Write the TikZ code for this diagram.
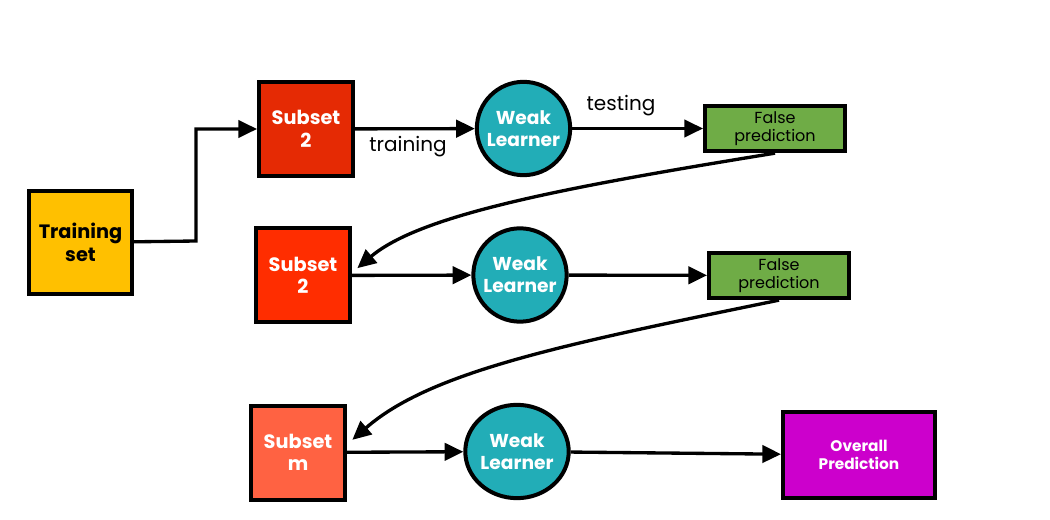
\documentclass[tikz,border=0pt]{standalone}
\usepackage{fontspec}
\setmainfont{Poppins}
\usetikzlibrary{arrows.meta, shapes.geometric}
\usepackage{xcolor}
\definecolor{gold}{HTML}{FFC000}
\definecolor{redA}{HTML}{E52A04}
\definecolor{redB}{HTML}{FF2D00}
\definecolor{redM}{HTML}{FF6242}
\definecolor{teal}{HTML}{22ADB7}
\definecolor{leaf}{HTML}{6FAC46}
\definecolor{plum}{HTML}{CC00CC}

\begin{document}
\begin{tikzpicture}[x=0.75pt,y=-0.75pt,
  >={Triangle[length=14pt,width=13pt]},
  box/.style={draw,line width=3pt,minimum width=70.5pt,minimum height=70.5pt,
    align=center,font=\fontsize{14.5}{17}\selectfont\bfseries,text=white},
  learner/.style={circle,draw,line width=3pt,fill=teal,minimum size=70pt,inner sep=0pt,
    align=center,font=\fontsize{14}{16.5}\selectfont\bfseries,text=white},
  falsebox/.style={draw,line width=3pt,fill=leaf,minimum width=105pt,minimum height=34pt,
    inner sep=0pt,align=center,font=\fontsize{12}{14}\selectfont},
  link/.style={->,line width=2.5pt},
  lbl/.style={font=\fontsize{15}{17}\selectfont}]
\useasboundingbox (0,0) rectangle (1050,520);

\node[box,fill=gold,text=black,minimum width=77pt,minimum height=77pt] (training) at (80.5,242.5) {Training\\set};
\node[box,fill=redA] (subA) at (306,129) {Subset\\2};
\node[learner] (learnA) at (523.5,128.5) {Weak\\Learner};
\node[falsebox] (falseA) at (775,128.5) {False\\prediction};

\node[box,fill=redB] (subB) at (303,275.5) {Subset\\2};
\node[learner] (learnB) at (520,275) {Weak\\Learner};
\node[falsebox] (falseB) at (779,275.5) {False\\prediction};

\node[box,fill=redM] (subM) at (298,452.5) {Subset\\m};
\node[learner,ellipse,minimum width=72pt,minimum height=70pt] (learnM) at (517,451.5) {Weak\\Learner};
\node[box,fill=plum,minimum width=114pt,minimum height=64.5pt,
  font=\fontsize{11.5}{14}\selectfont\bfseries] (overall) at (859,455) {Overall\\Prediction};

% first round
\coordinate (knee) at (196,241);
\draw[link] (training) -- (knee) |- (subA);
\draw[link] (subA) -- (learnA);
\node[lbl] (train) at (408,147) {training};
\draw[link] (learnA) -- (falseA);
\node[lbl] (test) at (621,106) {testing};

% second round
\draw[link] (falseA.south) .. controls (560,188) and (420,215) .. ([xshift=4pt,yshift=5.5pt]subB.east);
\draw[link] (subB) -- (learnB);
\draw[link] (learnB) -- (falseB);

% last round
\draw[link] (falseB.south) .. controls (560,345) and (430,372) .. ([xshift=4pt,yshift=9.5pt]subM.east);
\draw[link] (subM) -- (learnM);
\draw[link] (learnM) -- (overall);
\end{tikzpicture}
\end{document}
